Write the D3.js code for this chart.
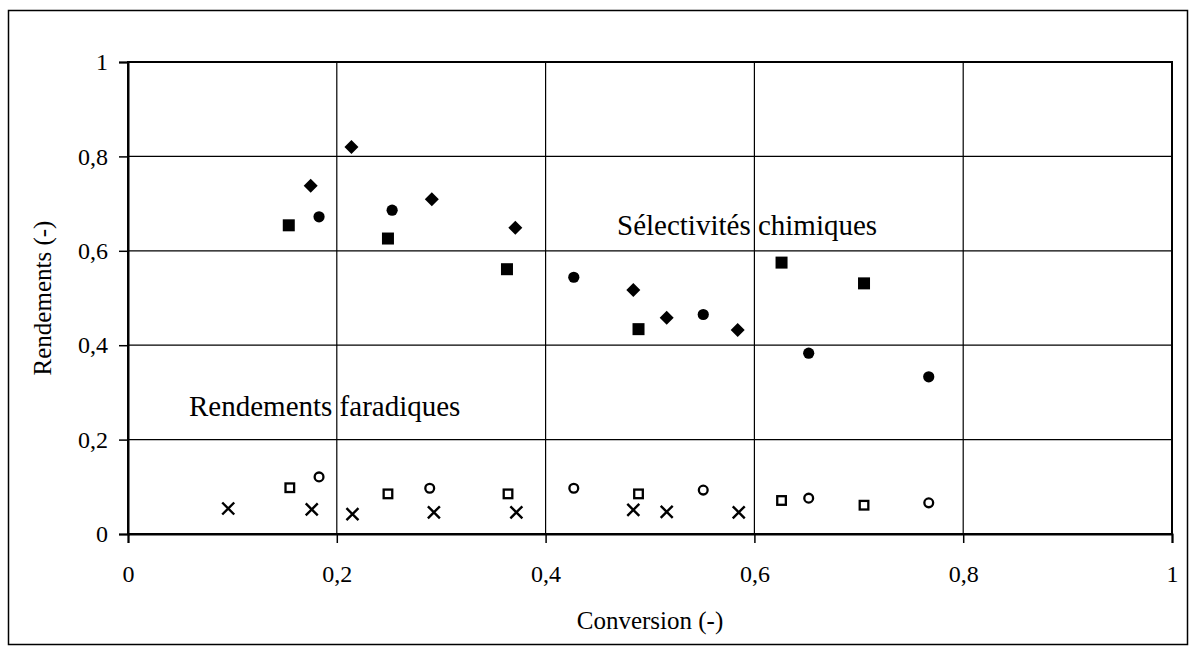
<!DOCTYPE html>
<html>
<head>
<meta charset="utf-8">
<script src="https://cdn.jsdelivr.net/npm/d3@7"></script>
<style>
  html, body { margin: 0; padding: 0; background: #fff; }
  svg { display: block; }
  text { font-family: "Liberation Serif", "Times New Roman", serif; fill: #000; }
</style>
</head>
<body>
<svg id="chart" width="1190" height="655"></svg>
<script>
// ---- Data ----
const xTicks = [0, 0.2, 0.4, 0.6, 0.8, 1];
const yTicks = [0, 0.2, 0.4, 0.6, 0.8, 1];
const tickLabels = ["0", "0,2", "0,4", "0,6", "0,8", "1"];

// Sélectivités chimiques (filled markers)
const selDiamondX = [0.175, 0.214, 0.291, 0.371, 0.484, 0.516, 0.584];
const selDiamondY = [0.738, 0.820, 0.709, 0.649, 0.517, 0.458, 0.432];
const selSquareX  = [0.154, 0.249, 0.363, 0.489, 0.626, 0.705];
const selSquareY  = [0.654, 0.626, 0.561, 0.434, 0.575, 0.531];
const selCircleX  = [0.183, 0.253, 0.427, 0.551, 0.652, 0.767];
const selCircleY  = [0.672, 0.686, 0.544, 0.465, 0.383, 0.333];

// Rendements faradiques (open markers / crosses)
const farCrossX  = [0.096, 0.176, 0.215, 0.293, 0.372, 0.484, 0.516, 0.585];
const farCrossY  = [0.054, 0.052, 0.042, 0.046, 0.046, 0.051, 0.047, 0.046];
const farSquareX = [0.155, 0.249, 0.364, 0.489, 0.626, 0.705];
const farSquareY = [0.098, 0.085, 0.085, 0.085, 0.071, 0.061];
const farCircleX = [0.183, 0.289, 0.427, 0.551, 0.652, 0.767];
const farCircleY = [0.121, 0.097, 0.097, 0.093, 0.076, 0.066];

const xTitle = "Conversion (-)";
const yTitle = "Rendements (-)";
const noteSel = "Sélectivités chimiques";
const noteFar = "Rendements faradiques";

// ---- Layout ----
const svg = d3.select("#chart");
const plot = { left: 128, top: 62, right: 1172, bottom: 534 };
const x = d3.scaleLinear().domain([0, 1]).range([plot.left, plot.right]);
const y = d3.scaleLinear().domain([0, 1]).range([plot.bottom, plot.top]);

// outer frame
svg.append("rect").attr("x", 8.5).attr("y", 10.5).attr("width", 1179).attr("height", 634)
  .attr("fill", "none").attr("stroke", "#000").attr("stroke-width", 1.5);

// gridlines
const grid = svg.append("g");
grid.selectAll("line.h").data(yTicks).join("line")
  .attr("x1", plot.left).attr("x2", plot.right)
  .attr("y1", d => y(d)).attr("y2", d => y(d))
  .attr("stroke", "#000").attr("stroke-width", 1.2);
grid.selectAll("line.v").data(xTicks).join("line")
  .attr("y1", plot.top).attr("y2", plot.bottom)
  .attr("x1", d => x(d)).attr("x2", d => x(d))
  .attr("stroke", "#000").attr("stroke-width", 1.2);

// plot border
svg.append("rect").attr("x", plot.left).attr("y", plot.top)
  .attr("width", plot.right - plot.left).attr("height", plot.bottom - plot.top)
  .attr("fill", "none").attr("stroke", "#000").attr("stroke-width", 2);

// axes
const fmt = d => tickLabels[xTicks.indexOf(d)];
const xAxis = d3.axisBottom(x).tickValues(xTicks).tickFormat(fmt).tickSize(9).tickPadding(22);
const yAxis = d3.axisLeft(y).tickValues(yTicks).tickFormat(d => tickLabels[yTicks.indexOf(d)]).tickSize(9).tickPadding(11);

const gx = svg.append("g").attr("transform", `translate(0,${plot.bottom})`).call(xAxis);
const gy = svg.append("g").attr("transform", `translate(${plot.left},0)`).call(yAxis);
[gx, gy].forEach(g => {
  g.select(".domain").attr("stroke", "#000").attr("stroke-width", 2);
  g.selectAll(".tick line").attr("stroke", "#000").attr("stroke-width", 1.5);
  g.selectAll(".tick text").attr("font-size", 24)
    .attr("font-family", "'Liberation Serif', 'Times New Roman', serif").attr("fill", "#000");
});

// axis titles
svg.append("text").attr("x", (plot.left + plot.right) / 2).attr("y", 629)
  .attr("text-anchor", "middle").attr("font-size", 25).text(xTitle);
svg.append("text").attr("transform", `translate(51,${(plot.top + plot.bottom) / 2}) rotate(-90)`)
  .attr("text-anchor", "middle").attr("font-size", 25).text(yTitle);

// annotations
svg.append("text").attr("x", 617).attr("y", 235).attr("font-size", 29).text(noteSel);
svg.append("text").attr("x", 189).attr("y", 416).attr("font-size", 29).text(noteFar);

// ---- markers ----
const zip = (xs, ys) => xs.map((v, i) => ({ x: v, y: ys[i] }));
const marks = svg.append("g");

const diamondPath = (r) => `M0,${-r}L${r},0L0,${r}L${-r},0Z`;
const crossPath = (r) => `M${-r},${-r}L${r},${r}M${-r},${r}L${r},${-r}`;

marks.selectAll("path.sd").data(zip(selDiamondX, selDiamondY)).join("path")
  .attr("transform", d => `translate(${x(d.x)},${y(d.y)})`)
  .attr("d", diamondPath(7)).attr("fill", "#000");

marks.selectAll("rect.ss").data(zip(selSquareX, selSquareY)).join("rect")
  .attr("x", d => x(d.x) - 6).attr("y", d => y(d.y) - 6)
  .attr("width", 12).attr("height", 12).attr("fill", "#000");

marks.selectAll("circle.sc").data(zip(selCircleX, selCircleY)).join("circle")
  .attr("cx", d => x(d.x)).attr("cy", d => y(d.y)).attr("r", 5.6).attr("fill", "#000");

marks.selectAll("path.fx").data(zip(farCrossX, farCrossY)).join("path")
  .attr("transform", d => `translate(${x(d.x)},${y(d.y)})`)
  .attr("d", crossPath(6)).attr("fill", "none").attr("stroke", "#000").attr("stroke-width", 2.4);

marks.selectAll("rect.fs").data(zip(farSquareX, farSquareY)).join("rect")
  .attr("x", d => x(d.x) - 4.3).attr("y", d => y(d.y) - 4.3)
  .attr("width", 8.6).attr("height", 8.6).attr("fill", "#fff")
  .attr("stroke", "#000").attr("stroke-width", 2.3);

marks.selectAll("circle.fc").data(zip(farCircleX, farCircleY)).join("circle")
  .attr("cx", d => x(d.x)).attr("cy", d => y(d.y)).attr("r", 4.4).attr("fill", "#fff")
  .attr("stroke", "#000").attr("stroke-width", 2.3);
</script>
</body>
</html>
